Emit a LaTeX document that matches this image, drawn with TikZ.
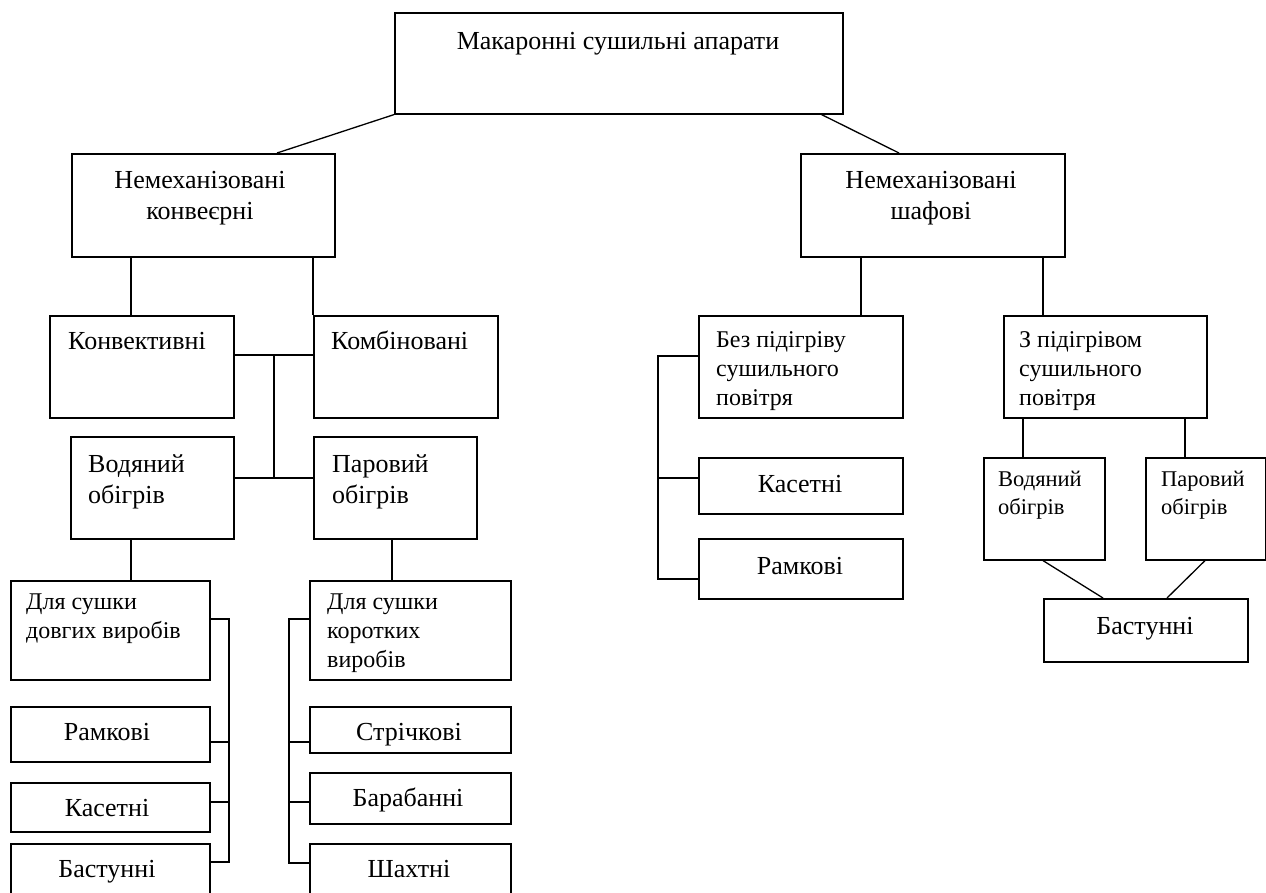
\documentclass[tikz,border=0pt]{standalone}
\usepackage{fontspec}
\setmainfont{Liberation Serif}
\usetikzlibrary{calc}
\tikzset{
 box/.style={draw, line width=1.6pt, rectangle, inner sep=0pt, anchor=north west},
 lbl/.style={inner sep=0pt, font=\fontsize{26}{31}\selectfont, align=left},
 sml/.style={inner sep=0pt, font=\fontsize{24}{29}\selectfont, align=left, anchor=north west},
 xsml/.style={inner sep=0pt, font=\fontsize{22.5}{28}\selectfont, align=left, anchor=north west},
 conn/.style={line width=1.6pt},
 diag/.style={line width=1.3pt},
}
\begin{document}
\begin{tikzpicture}[x=1pt,y=-1pt]
\fill[white] (0,0) rectangle (1266,892);
\useasboundingbox (0,0) rectangle (1266,892);
% boxes
\node[box, minimum width=448pt, minimum height=101pt] (top) at (394,12) {};
\node[box, minimum width=263pt, minimum height=103pt] (A) at (71,153) {};
\node[box, minimum width=264pt, minimum height=103pt] (B) at (800,153) {};
\node[box, minimum width=184pt, minimum height=102pt] (C) at (49,315) {};
\node[box, minimum width=184pt, minimum height=102pt] (D) at (313,315) {};
\node[box, minimum width=163pt, minimum height=102pt] (E) at (70,436) {};
\node[box, minimum width=163pt, minimum height=102pt] (F) at (313,436) {};
\node[box, minimum width=199pt, minimum height=99pt] (G) at (10,580) {};
\node[box, minimum width=199pt, minimum height=55pt] (H) at (10,706) {};
\node[box, minimum width=199pt, minimum height=49pt] (I) at (10,782) {};
\node[box, minimum width=199pt, minimum height=60pt] (J) at (10,843) {};
\node[box, minimum width=201pt, minimum height=99pt] (K) at (309,580) {};
\node[box, minimum width=201pt, minimum height=46pt] (L) at (309,706) {};
\node[box, minimum width=201pt, minimum height=51pt] (M) at (309,772) {};
\node[box, minimum width=201pt, minimum height=60pt] (N) at (309,843) {};
\node[box, minimum width=204pt, minimum height=102pt] (O) at (698,315) {};
\node[box, minimum width=204pt, minimum height=56pt] (P) at (698,457) {};
\node[box, minimum width=204pt, minimum height=60pt] (Q) at (698,538) {};
\node[box, minimum width=203pt, minimum height=102pt] (R) at (1003,315) {};
\node[box, minimum width=121pt, minimum height=102pt] (S) at (983,457) {};
\node[box, minimum width=120pt, minimum height=102pt] (T) at (1145,457) {};
\node[box, minimum width=204pt, minimum height=63pt] (U) at (1043,598) {};
% texts
\node[lbl, anchor=base] (topt) at (618,49) {Макаронні сушильні апарати};
\node[lbl, align=center, anchor=north] (At) at (200,171) {Немеханізовані\\конвеєрні};
\node[lbl, align=center, anchor=north] (Bt) at (931,171) {Немеханізовані\\шафові};
\node[lbl, anchor=base west] (Ct) at (68,349) {Конвективні};
\node[lbl, anchor=base west] (Dt) at (331,349) {Комбіновані};
\node[lbl, anchor=north west] (Et) at (88,454) {Водяний\\обігрів};
\node[lbl, anchor=north west] (Ft) at (332,454) {Паровий\\обігрів};
\node[sml] (Gt) at (26,594) {Для сушки\\довгих виробів};
\node[sml] (Kt) at (327,594) {Для сушки\\коротких\\виробів};
\node[lbl, anchor=base] (Ht) at (107,740) {Рамкові};
\node[lbl, anchor=base] (It) at (107,816) {Касетні};
\node[lbl, anchor=base] (Jt) at (107,877) {Бастунні};
\node[lbl, anchor=base] (Lt) at (409,740) {Стрічкові};
\node[lbl, anchor=base] (Mt) at (408,806) {Барабанні};
\node[lbl, anchor=base] (Nt) at (409,877) {Шахтні};
\node[sml] (Ot) at (716,331) {Без підігріву\\сушильного\\повітря};
\node[sml] (Rt) at (1019,331) {З підігрівом\\сушильного\\повітря};
\node[lbl, anchor=base] (Pt) at (800,492) {Касетні};
\node[lbl, anchor=base] (Qt) at (800,574) {Рамкові};
\node[xsml] (St) at (998,471) {Водяний\\обігрів};
\node[xsml] (Tt) at (1161,471) {Паровий\\обігрів};
\node[lbl, anchor=base] (Ut) at (1145,634) {Бастунні};
% connectors
\draw[diag] (top.south west) -- ([xshift=206pt]A.north west);
\draw[diag] ([xshift=-22pt]top.south east) -- ([xshift=99pt]B.north west);
\coordinate (a1) at ([xshift=60pt]A.south west);
\draw[conn] (a1) -- (a1 |- C.north);
\draw[conn] (A.south -| D.north west) -- (D.north west);
\coordinate (b1) at ([xshift=163pt]O.north west);
\draw[conn] (b1) -- (b1 |- B.south);
\coordinate (b2) at ([xshift=40pt]R.north west);
\draw[conn] (b2) -- (b2 |- B.south);
\coordinate (h1) at (274,355);
\coordinate (h2) at (274,478);
\draw[conn] (C.east |- h1) -- (D.west |- h1);
\draw[conn] (E.east |- h2) -- (F.west |- h2);
\draw[conn] (h1) -- (h2);
\coordinate (e1) at ([xshift=61pt]E.south west);
\draw[conn] (e1) -- (e1 |- G.north);
\coordinate (f1) at ([xshift=79pt]F.south west);
\draw[conn] (f1) -- (f1 |- K.north);
% left bracket
\coordinate (g1) at (229,619);
\coordinate (g2) at (229,742);
\coordinate (g3) at (229,802);
\coordinate (g4) at (229,862);
\draw[conn] (G.east |- g1) -- (g1) -- (g4) -- (J.east |- g4);
\draw[conn] (H.east |- g2) -- (g2);
\draw[conn] (I.east |- g3) -- (g3);
% right bracket
\coordinate (k1) at (289,619);
\coordinate (k2) at (289,742);
\coordinate (k3) at (289,802);
\coordinate (k4) at (289,863);
\draw[conn] (K.west |- k1) -- (k1) -- (k4) -- (N.west |- k4);
\draw[conn] (L.west |- k2) -- (k2);
\draw[conn] (M.west |- k3) -- (k3);
% O bracket
\coordinate (o1) at (658,356);
\coordinate (o2) at (658,478);
\coordinate (o3) at (658,579);
\draw[conn] (O.west |- o1) -- (o1) -- (o3) -- (Q.west |- o3);
\draw[conn] (P.west |- o2) -- (o2);
% R children
\coordinate (r1) at ([xshift=40pt]S.north west);
\draw[conn] (r1) -- (r1 |- R.south);
\coordinate (r2) at ([xshift=40pt]T.north west);
\draw[conn] (r2) -- (r2 |- R.south);
\draw[diag] ([xshift=60pt]S.south west) -- ([xshift=60pt]U.north west);
\draw[diag] ([xshift=60pt]T.south west) -- ([xshift=124pt]U.north west);
\end{tikzpicture}
\end{document}
